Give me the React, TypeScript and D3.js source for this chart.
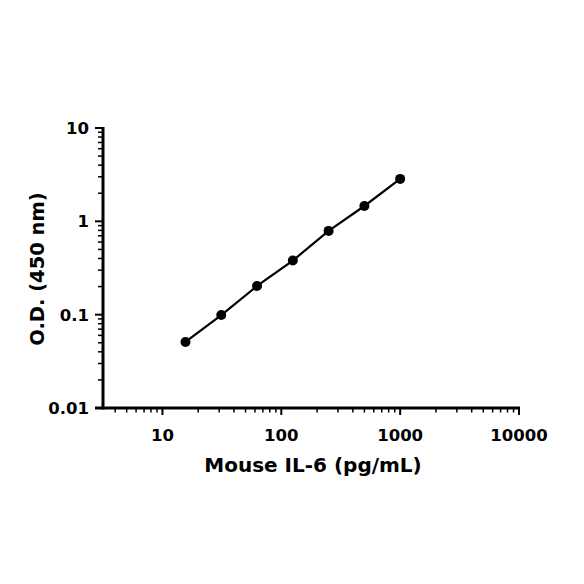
import React from "react";
import * as d3 from "d3";

const concentrations = [15.625, 31.25, 62.5, 125, 250, 500, 1000];
const odValues = [0.051, 0.099, 0.203, 0.38, 0.79, 1.46, 2.85];
const xTickValues = [10, 100, 1000, 10000];
const xTickLabels = ["10", "100", "1000", "10000"];
const yTickValues = [0.01, 0.1, 1, 10];
const yTickLabels = ["0.01", "0.1", "1", "10"];
const xTitle = "Mouse IL-6 (pg/mL)";
const yTitle = "O.D. (450 nm)";

const FONT = "'DejaVu Sans', sans-serif";

export default function App() {
  const x = d3.scaleLog().domain([3.16, 10000]).range([103, 519]);
  const y = d3.scaleLog().domain([0.01, 10]).range([408, 128]);

  const xMinor: number[] = [];
  for (const dec of [1, 10, 100, 1000]) {
    for (let k = 2; k <= 9; k++) {
      const v = dec * k;
      if (v >= 3.5 && v < 10000) xMinor.push(v);
    }
  }
  const yMinor: number[] = [];
  for (const dec of [0.01, 0.1, 1]) {
    for (let k = 2; k <= 9; k++) yMinor.push(dec * k);
  }

  const pts = concentrations.map((c, i) => [x(c), y(odValues[i])] as [number, number]);
  const line = d3.line()(pts) || "";

  const x0 = x(3.16);
  const yBase = y(0.01);

  return (
    <svg
      width={584}
      height={584}
      style={{ position: "absolute", left: 0, top: 0, background: "#fff" }}
    >
      {/* axes */}
      <line x1={x0} x2={x0} y1={y(10) - 1} y2={yBase + 1.5} stroke="#000" strokeWidth={3} />
      <line x1={95} x2={x(10000) + 1} y1={yBase} y2={yBase} stroke="#000" strokeWidth={3} />

      {/* y ticks */}
      {yTickValues.map((v) => (
        <line key={"ym" + v} x1={95} x2={x0} y1={y(v)} y2={y(v)} stroke="#000" strokeWidth={2} />
      ))}
      {yMinor.map((v, i) => (
        <line key={"yn" + i} x1={98} x2={x0} y1={y(v)} y2={y(v)} stroke="#000" strokeWidth={1.5} />
      ))}
      {yTickValues.map((v, i) => (
        <text
          key={"yl" + v}
          x={89}
          y={y(v)}
          dy="0.36em"
          textAnchor="end"
          fontFamily={FONT}
          fontWeight="bold"
          fontSize={16.5}
          fill="#000"
        >
          {yTickLabels[i]}
        </text>
      ))}

      {/* x ticks */}
      {xTickValues.map((v) => (
        <line key={"xm" + v} x1={x(v)} x2={x(v)} y1={yBase} y2={yBase + 7} stroke="#000" strokeWidth={2} />
      ))}
      {xMinor.map((v, i) => (
        <line key={"xn" + i} x1={x(v)} x2={x(v)} y1={yBase} y2={yBase + 4.5} stroke="#000" strokeWidth={1.5} />
      ))}
      {xTickValues.map((v, i) => (
        <text
          key={"xl" + v}
          x={x(v)}
          y={441}
          textAnchor="middle"
          fontFamily={FONT}
          fontWeight="bold"
          fontSize={16.5}
          fill="#000"
        >
          {xTickLabels[i]}
        </text>
      ))}

      {/* titles */}
      <text
        x={313}
        y={472}
        textAnchor="middle"
        fontFamily={FONT}
        fontWeight="bold"
        fontSize={20}
        fill="#000"
      >
        {xTitle}
      </text>
      <text
        transform={`translate(44, 269) rotate(-90)`}
        textAnchor="middle"
        fontFamily={FONT}
        fontWeight="bold"
        fontSize={19.5}
        fill="#000"
      >
        {yTitle}
      </text>

      {/* data */}
      <path d={line} fill="none" stroke="#000" strokeWidth={2.2} />
      {pts.map((p, i) => (
        <circle key={"p" + i} cx={p[0]} cy={p[1]} r={5} fill="#000" />
      ))}
    </svg>
  );
}
